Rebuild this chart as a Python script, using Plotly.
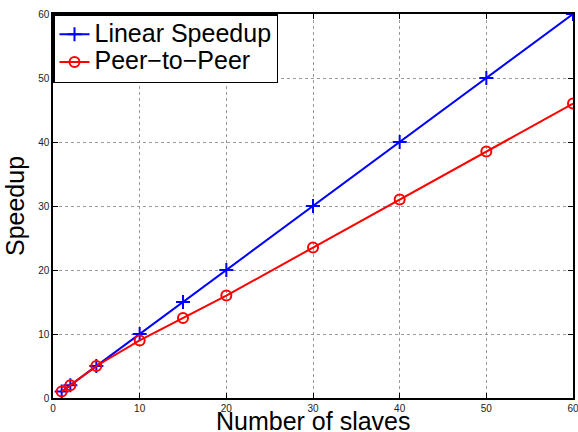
import plotly.graph_objects as go

slaves = [1, 2, 5, 10, 15, 20, 30, 40, 50, 60]
linear_speedup = [1, 2, 5, 10, 15, 20, 30, 40, 50, 60]
p2p_speedup = [1, 2, 5, 9, 12.5, 16, 23.5, 31, 38.5, 46]
series_names = ["Linear Speedup", "Peer\u2212to\u2212Peer"]
x_ticks = [0, 10, 20, 30, 40, 50, 60]
y_ticks = [0, 10, 20, 30, 40, 50, 60]

FONT = "Liberation Sans, Arial, Helvetica, sans-serif"


def legend_label(s):
    return '<span style="font-size:25px">' + s + "</span>"


fig = go.Figure()
fig.add_trace(go.Scatter(
    x=slaves, y=linear_speedup, mode="lines+markers", name=legend_label(series_names[0]),
    line=dict(color="#0000ff", width=2),
    marker=dict(symbol="cross-thin", size=10, line=dict(color="#0000ff", width=2)),
))
fig.add_trace(go.Scatter(
    x=slaves, y=p2p_speedup, mode="lines+markers", name=legend_label(series_names[1]),
    line=dict(color="#ff0000", width=2),
    marker=dict(symbol="circle-open", size=10, color="#ff0000", line=dict(color="#ff0000", width=2)),
))

axis_common = dict(
    showline=True, linecolor="black", linewidth=1.5, mirror="ticks",
    ticks="inside", ticklen=5, tickcolor="black",
    showgrid=True, gridcolor="#9a9a9a", griddash="dot", gridwidth=1,
    zeroline=False, automargin=False,
    tickfont=dict(family=FONT, size=10, color="#222222"),
)

fig.update_xaxes(range=[0, 60], tickvals=x_ticks, ticklabeloverflow="allow", **axis_common)
fig.update_yaxes(range=[0, 60], tickvals=y_ticks,
                 title=dict(text="Speedup", font=dict(family=FONT, size=25, color="black"), standoff=6),
                 **axis_common)

fig.add_annotation(
    text="Number of slaves", xref="paper", yref="paper", x=0.5, y=0,
    xanchor="center", yanchor="top", yshift=-7, showarrow=False,
    font=dict(family=FONT, size=25, color="black"),
)

fig.update_layout(
    width=578, height=432,
    margin=dict(l=53, r=5, t=14, b=34),
    plot_bgcolor="white", paper_bgcolor="white",
    font=dict(family=FONT, color="black"),
    legend=dict(x=0, y=1, xanchor="left", yanchor="top",
                bgcolor="white", bordercolor="black", borderwidth=1.5,
                font=dict(family=FONT, size=19, color="black"),
                tracegroupgap=0, itemwidth=30),
    showlegend=True,
)

fig.write_html("out.html")
